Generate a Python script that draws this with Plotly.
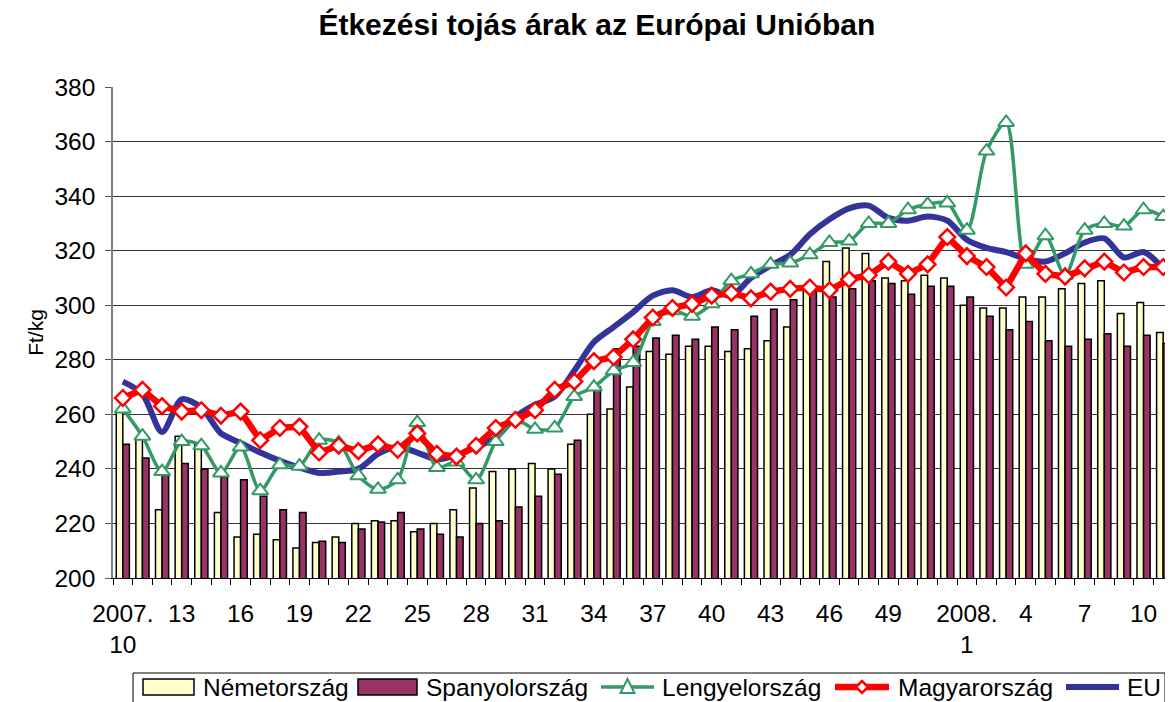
import plotly.graph_objects as go

# Categories: weeks 2007.10 .. 2007.52, 2008.1 .. 2008.11
weeks_2007 = list(range(10, 53))
weeks_2008 = list(range(1, 12))
categories = [f"2007.{w}" for w in weeks_2007] + [f"2008.{w}" for w in weeks_2008]

# Tick labels shown on the axis (others blank)
tick_labels = {
    "2007.10": "2007.<br>10", "2007.13": "13", "2007.16": "16", "2007.19": "19",
    "2007.22": "22", "2007.25": "25", "2007.28": "28", "2007.31": "31",
    "2007.34": "34", "2007.37": "37", "2007.40": "40", "2007.43": "43",
    "2007.46": "46", "2007.49": "49", "2008.1": "2008.<br>1", "2008.4": "4",
    "2008.7": "7", "2008.10": "10",
}

nemetorszag = [261, 251, 225, 252, 249, 224, 215, 216, 214, 211, 213, 215, 220, 221,
               221, 217, 220, 225, 233, 239, 240, 242, 240, 249, 260, 262, 270, 283,
               282, 285, 285, 283, 284, 287, 292, 306, 316, 321, 319, 310, 309, 311,
               310, 300, 299, 299, 303, 303, 306, 308, 309, 297, 301, 290]

spanyolorszag = [249, 244, 238, 242, 240, 237, 236, 230, 225, 224, 213.5, 213, 218, 220.5,
                 224, 218, 216, 215, 220, 221, 226, 230, 238, 250.5, 270, 284, 285, 288,
                 289, 287.5, 292, 291, 296, 298.5, 302, 305, 303, 306, 309, 308, 304, 307,
                 307, 303, 296, 291, 294, 287, 285, 287.5, 289.5, 285, 289, 286]

lengyelorszag = [262, 252, 239, 250, 248.5, 238.5, 248, 232, 241.5, 241, 250.5, 249.5, 237.5, 232.5,
                 236, 257, 240.5, 242.5, 236, 250, 258, 254.5, 255, 266.5, 270, 276, 279, 294,
                 298, 296, 300.5, 309, 311.5, 315, 315.5, 318.5, 323, 323.5, 330, 330, 335, 337,
                 337.5, 327.5, 356.5, 367, 315, 325.5, 311, 327.5, 330, 329, 335, 332.5]

magyarorszag = [266, 269, 263, 261, 261.5, 259.5, 261, 250.5, 255, 255.5, 246, 248.5, 246.5, 249,
                247, 253, 245.5, 244.5, 248.5, 255, 258, 261.5, 269, 272, 279.5, 281, 287.5, 295.5,
                299, 300.5, 303.5, 304.5, 302.5, 305, 306, 306.5, 305.5, 309.5, 311, 316, 311.5, 315,
                325, 318, 314, 306.5, 319, 311.5, 310.5, 313.5, 316, 312, 314, 314]

eu = [272, 267.5, 253.5, 265.5, 262.5, 253, 249.5, 246, 243, 240.5, 238.5, 239, 240, 245.5,
      248, 246, 243.5, 245, 248, 251.5, 259, 263.5, 266.5, 276, 286.5, 292, 297.5, 303.5,
      305.5, 303, 305.5, 303.5, 310, 314.5, 318.5, 326, 331.5, 335.5, 336.5, 332, 331, 332.5,
      331, 324, 321, 319.5, 317, 316, 319, 323, 324.5, 317.5, 319.5, 313.5]

y_ticks = [200, 220, 240, 260, 280, 300, 320, 340, 360, 380]

FONT = "Arial, Liberation Sans, sans-serif"
YELLOW, PURPLE, GREEN, RED, BLUE = "#FFFFCC", "#993366", "#339966", "#FF0000", "#333399"

fig = go.Figure()
fig.add_trace(go.Bar(x=categories, y=nemetorszag, name="Németország",
                     marker=dict(color=YELLOW, line=dict(color="black", width=1.5))))
fig.add_trace(go.Bar(x=categories, y=spanyolorszag, name="Spanyolország",
                     marker=dict(color=PURPLE, line=dict(color="black", width=1.5))))
fig.add_trace(go.Scatter(x=categories, y=eu, name="EU", mode="lines",
                         line=dict(color=BLUE, width=6, shape="spline", smoothing=0.8)))
fig.add_trace(go.Scatter(x=categories, y=lengyelorszag, name="Lengyelország", mode="lines+markers",
                         line=dict(color=GREEN, width=3.5, shape="spline", smoothing=0.8),
                         marker=dict(symbol="triangle-up", size=14, color="white",
                                     line=dict(color=GREEN, width=2))))
fig.add_trace(go.Scatter(x=categories, y=magyarorszag, name="Magyarország", mode="lines+markers",
                         line=dict(color=RED, width=6.5),
                         marker=dict(symbol="diamond", size=12, color="white",
                                     line=dict(color=RED, width=2.5))))

# Page has an 8px body margin; margins compensate so the plot area lands where the reference has it.
ML, MR, MT, MB = 105, 8, 79, 132
fig.update_layout(
    width=1173, height=702,
    margin=dict(l=ML, r=MR, t=MT, b=MB, autoexpand=False),
    paper_bgcolor="white", plot_bgcolor="white",
    font=dict(family=FONT, size=24.5, color="black"),
    title=dict(text="<b>Étkezési tojás árak az Európai Unióban</b>", x=0.502, xanchor="center",
               y=1 - 16 / 702, yanchor="middle", yref="container",
               font=dict(family=FONT, size=30, color="black")),
    barmode="group", bargap=0.33, bargroupgap=0,
    showlegend=False,
)

fig.update_xaxes(
    type="category", categoryorder="array", categoryarray=categories,
    range=[-0.5, len(categories) - 0.5], autorange=False,
    tickmode="array", tickvals=categories,
    ticktext=[tick_labels.get(c, "") for c in categories],
    tickson="boundaries", ticks="outside", ticklen=6, tickcolor="black", tickwidth=1,
    showline=True, linecolor="black", linewidth=1.2, showgrid=False,
    tickangle=0, ticklabelstandoff=13, automargin=False,
    tickfont=dict(family=FONT, size=24.5),
)
fig.update_yaxes(
    range=[200, 380], autorange=False, tickvals=y_ticks,
    ticks="outside", ticklen=6, tickcolor="#555", tickwidth=1,
    showline=True, linecolor="#808080", linewidth=1.5,
    showgrid=True, gridcolor="#333333", gridwidth=1,
    zeroline=False, ticklabelstandoff=5, automargin=False,
    tickfont=dict(family=FONT, size=24.5),
)

fig.add_annotation(text="Ft/kg", xref="paper", yref="paper", x=-0.0733, y=0.5,
                   textangle=-90, showarrow=False, xanchor="center", yanchor="middle",
                   font=dict(family=FONT, size=21, color="black"))

# ---- Legend drawn as layout shapes/annotations (page pixel -> paper coords) ----
PLOT_L, PLOT_W = 113, 1173 - ML - MR
PLOT_B, PLOT_H = 702 - MB + 8, 702 - MT - MB


def px(X):
    return (X - PLOT_L) / PLOT_W


def py(Y):
    return (PLOT_B - Y) / PLOT_H


LEG_Y = 687
fig.add_shape(type="rect", xref="paper", yref="paper",
              x0=px(133), x1=px(1165), y0=py(673), y1=py(715),
              line=dict(color="black", width=1), fillcolor="white", layer="above")

legend_items = [
    ("Németország", "bar", YELLOW, 143, 194, 201),
    ("Spanyolország", "bar", PURPLE, 358, 417, 424),
    ("Lengyelország", "tri", GREEN, 601, 654, 660),
    ("Magyarország", "dia", RED, 835, 889, 896),
    ("EU", "line", BLUE, 1066, 1119, 1125),
]
for name, kind, color, s0, s1, tx in legend_items:
    if kind == "bar":
        fig.add_shape(type="rect", xref="paper", yref="paper",
                      x0=px(s0), x1=px(s1), y0=py(LEG_Y + 8), y1=py(LEG_Y - 8),
                      line=dict(color="black", width=1.5), fillcolor=color, layer="above")
    else:
        width = {"tri": 3.5, "dia": 6.5, "line": 6}[kind]
        fig.add_shape(type="line", xref="paper", yref="paper",
                      x0=px(s0), x1=px(s1), y0=py(LEG_Y), y1=py(LEG_Y),
                      line=dict(color=color, width=width), layer="above")
        cx = (s0 + s1) / 2
        if kind == "tri":
            path = (f"M{px(cx)},{py(LEG_Y - 8)} L{px(cx - 7)},{py(LEG_Y + 6)} "
                    f"L{px(cx + 7)},{py(LEG_Y + 6)} Z")
            fig.add_shape(type="path", xref="paper", yref="paper", path=path,
                          line=dict(color=color, width=2), fillcolor="white", layer="above")
        elif kind == "dia":
            path = (f"M{px(cx)},{py(LEG_Y - 6)} L{px(cx + 6)},{py(LEG_Y)} "
                    f"L{px(cx)},{py(LEG_Y + 6)} L{px(cx - 6)},{py(LEG_Y)} Z")
            fig.add_shape(type="path", xref="paper", yref="paper", path=path,
                          line=dict(color=color, width=2.5), fillcolor="white", layer="above")
    fig.add_annotation(text=name, xref="paper", yref="paper", x=px(tx), y=py(LEG_Y),
                       xanchor="left", yanchor="middle", showarrow=False,
                       font=dict(family=FONT, size=24.5, color="black"))

fig.write_html("out.html")
